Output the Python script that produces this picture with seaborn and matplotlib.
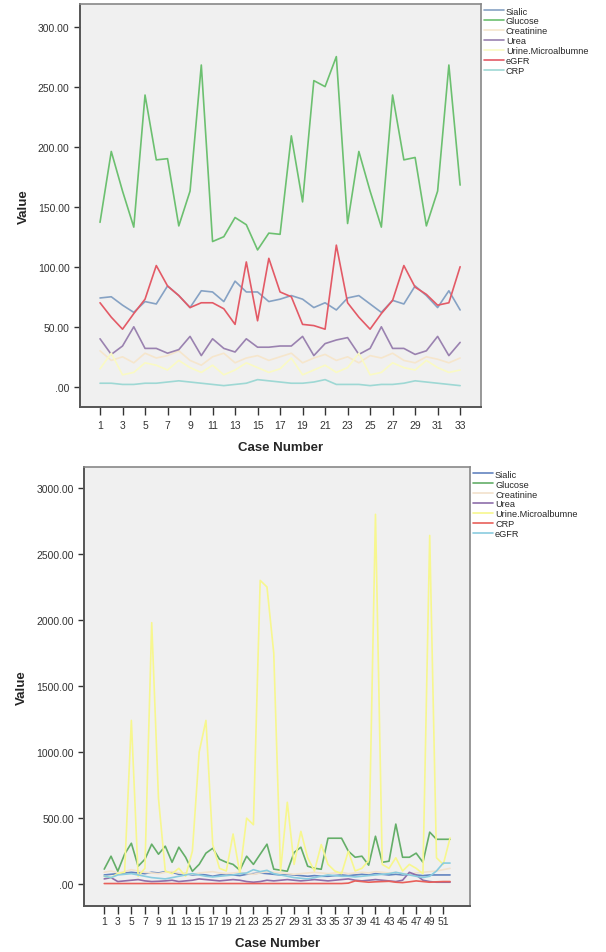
import numpy as np
import pandas as pd
import matplotlib
matplotlib.use('Agg')
import matplotlib.pyplot as plt
import seaborn as sns
from matplotlib.ticker import FuncFormatter

# 上图数据 (33 cases)
top_cases = list(range(1, 34))
top_sialic = [74, 75, 68, 62, 71, 69, 84, 76, 66, 80, 79, 71, 88, 79, 79, 71, 73,
              76, 73, 66, 70, 64, 74, 76, 69, 62, 72, 69, 84, 76, 66, 80, 64]
top_glucose = [137, 196, 163, 133, 243, 189, 190, 134, 163, 268, 121, 125, 141, 135, 114, 128, 127,
               209, 154, 255, 250, 275, 136, 196, 163, 133, 243, 189, 191, 134, 163, 268, 168]
top_creatinine = [30, 22, 25, 20, 28, 24, 26, 30, 22, 18, 25, 28, 20, 24, 26, 22, 25,
                  28, 20, 24, 27, 22, 25, 20, 26, 24, 28, 22, 20, 25, 23, 20, 24]
top_urea = [40, 27, 34, 50, 32, 32, 28, 31, 42, 26, 40, 32, 29, 40, 33, 33, 34,
            34, 42, 26, 36, 39, 41, 27, 32, 50, 32, 32, 27, 30, 42, 26, 37]
top_urine = [15, 28, 10, 12, 20, 18, 14, 22, 16, 12, 18, 10, 14, 20, 16, 12, 15,
             24, 10, 14, 18, 12, 16, 28, 10, 12, 20, 16, 14, 22, 16, 12, 14]
top_egfr = [70, 58, 48, 61, 73, 101, 84, 76, 66, 70, 70, 65, 52, 104, 55, 107, 79,
            75, 52, 51, 48, 118, 70, 58, 48, 61, 72, 101, 83, 77, 68, 70, 100]
top_crp = [3, 3, 2, 2, 3, 3, 4, 5, 4, 3, 2, 1, 2, 3, 6, 5, 4,
           3, 3, 4, 6, 2, 2, 2, 1, 2, 2, 3, 5, 4, 3, 2, 1]

# 下图数据 (52 cases)
bot_cases = list(range(1, 53))
bot_sialic = [70, 75, 80, 85, 90, 85, 80, 90, 85, 95, 90, 75, 80, 70, 75, 70, 60, 70, 75, 70,
              65, 75, 80, 85, 80, 75, 70, 75, 70, 65, 60, 65, 60, 60, 65, 70, 65, 70, 75, 70,
              80, 75, 70, 75, 70, 75, 70, 65, 70, 70, 70, 70]
bot_glucose = [114, 212, 98, 227, 310, 136, 189, 303, 227, 288, 166, 280, 204, 98, 150, 235, 272,
               189, 166, 150, 106, 212, 150, 227, 303, 114, 106, 98, 240, 280, 136, 121, 113,
               348, 348, 348, 250, 204, 212, 144, 363, 166, 174, 455, 204, 204, 235, 166, 394,
               340, 340, 340]
bot_creatinine = [90, 100, 85, 95, 110, 100, 90, 85, 80, 90, 95, 85, 80, 75, 85, 90, 95, 85,
                  80, 85, 90, 80, 75, 85, 95, 90, 85, 80, 75, 80, 85, 90, 85, 80, 85, 90, 80,
                  85, 90, 85, 95, 90, 85, 90, 80, 75, 85, 90, 95, 100, 110, 120]
bot_urea = [40, 50, 20, 25, 30, 35, 25, 20, 22, 25, 30, 20, 25, 30, 40, 35, 30, 25, 30, 35,
            30, 20, 15, 20, 30, 25, 30, 35, 30, 25, 30, 35, 30, 25, 30, 35, 40, 30, 25, 30,
            35, 30, 25, 20, 30, 90, 70, 30, 20, 15, 15, 15]
bot_urine = [60, 50, 80, 90, 1240, 60, 120, 1980, 650, 100, 80, 120, 60, 250, 1000, 1240, 300,
             120, 100, 380, 80, 500, 450, 2300, 2250, 1750, 100, 620, 150, 400, 200, 100, 300,
             150, 100, 80, 250, 100, 120, 180, 2800, 150, 120, 200, 100, 150, 120, 80, 2640,
             200, 150, 350]
bot_crp = [5] * 36 + [8, 25, 20, 15, 18, 20, 22, 15, 12, 18, 25, 20, 15, 18, 20, 20]
bot_egfr = [60, 50, 70, 75, 80, 70, 60, 50, 45, 40, 50, 60, 70, 80, 70, 60, 55, 60, 65, 70,
            80, 85, 110, 95, 105, 80, 70, 60, 50, 45, 40, 50, 60, 70, 65, 60, 60, 55, 60, 65,
            70, 75, 80, 90, 80, 70, 60, 50, 60, 100, 160, 160]

top_order = ['Sialic', 'Glucose', 'Creatinine', 'Urea', 'Urine.Microalbumne', 'eGFR', 'CRP']
top_colors = {'Sialic': '#86a2c4', 'Glucose': '#6cc070', 'Creatinine': '#f6e6cc',
              'Urea': '#9a82b0', 'Urine.Microalbumne': '#fafac4', 'eGFR': '#e35a66',
              'CRP': '#9ed8d4'}
bot_order = ['Sialic', 'Glucose', 'Creatinine', 'Urea', 'Urine.Microalbumne', 'CRP', 'eGFR']
bot_colors = {'Sialic': '#6384c0', 'Glucose': '#64ae68', 'Creatinine': '#f2e2cc',
              'Urea': '#8e6eaa', 'Urine.Microalbumne': '#f7f78e', 'CRP': '#e8605a',
              'eGFR': '#8accdf'}

top_df = pd.DataFrame({'Case': top_cases, 'Sialic': top_sialic, 'Glucose': top_glucose,
                       'Creatinine': top_creatinine, 'Urea': top_urea,
                       'Urine.Microalbumne': top_urine, 'eGFR': top_egfr, 'CRP': top_crp})
bot_df = pd.DataFrame({'Case': bot_cases, 'Sialic': bot_sialic, 'Glucose': bot_glucose,
                       'Creatinine': bot_creatinine, 'Urea': bot_urea,
                       'Urine.Microalbumne': bot_urine, 'CRP': bot_crp, 'eGFR': bot_egfr})
top_long = top_df.melt(id_vars='Case', var_name='Var', value_name='Value')
bot_long = bot_df.melt(id_vars='Case', var_name='Var', value_name='Value')

sns.set_style('white')
plt.rcParams['font.family'] = ['Liberation Sans', 'DejaVu Sans']

fig = plt.figure(figsize=(6.06, 9.53), dpi=100)


def fmt(v, pos):
    s = f'{v:.2f}'
    return s[1:] if s.startswith('0') else s


def style_axes(ax, long_df, order, colors, xlim, ylim, yticks, xticks):
    sns.lineplot(data=long_df, x='Case', y='Value', hue='Var', hue_order=order,
                 palette=colors, errorbar=None, linewidth=1.2, ax=ax)
    ax.set_facecolor('#f0f0f0')
    ax.set_xlim(*xlim)
    ax.set_ylim(*ylim)
    ax.set_yticks(yticks)
    ax.set_xticks(xticks)
    ax.yaxis.set_major_formatter(FuncFormatter(fmt))
    ax.tick_params(axis='y', direction='out', length=4, width=1, labelsize=7.5,
                   colors='#333333', left=True)
    ax.tick_params(axis='x', direction='out', length=6, width=1, labelsize=7.5,
                   colors='#333333', bottom=True)
    for s in ['left', 'bottom']:
        ax.spines[s].set_color('#555555')
        ax.spines[s].set_linewidth(1.4)
    for s in ['top', 'right']:
        ax.spines[s].set_color('#888888')
        ax.spines[s].set_linewidth(1.2)
    ax.set_xlabel('Case Number', fontsize=9.5, fontweight='bold', labelpad=8)
    ax.set_ylabel('Value', fontsize=9.5, fontweight='bold', labelpad=6)
    h, l = ax.get_legend_handles_labels()
    ax.legend(h, l, loc='upper left', bbox_to_anchor=(1.0, 1.0), frameon=False,
              fontsize=6.6, handlelength=2.2, handletextpad=0.2, labelspacing=0.1,
              borderaxespad=0.2, borderpad=0.1)


ax1 = fig.add_axes([0.132, 0.572, 0.662, 0.423])
style_axes(ax1, top_long, top_order, top_colors, (-0.78, 34.87), (-16.7, 319),
           [0, 50, 100, 150, 200, 250, 300], list(range(1, 34, 2)))

ax2 = fig.add_axes([0.139, 0.048, 0.637, 0.461])
style_axes(ax2, bot_long, bot_order, bot_colors, (-1.95, 54.98), (-167, 3159),
           [0, 500, 1000, 1500, 2000, 2500, 3000], list(range(1, 52, 2)))
ax2.tick_params(axis='x', pad=1)

fig.savefig('out.png', dpi=100)
